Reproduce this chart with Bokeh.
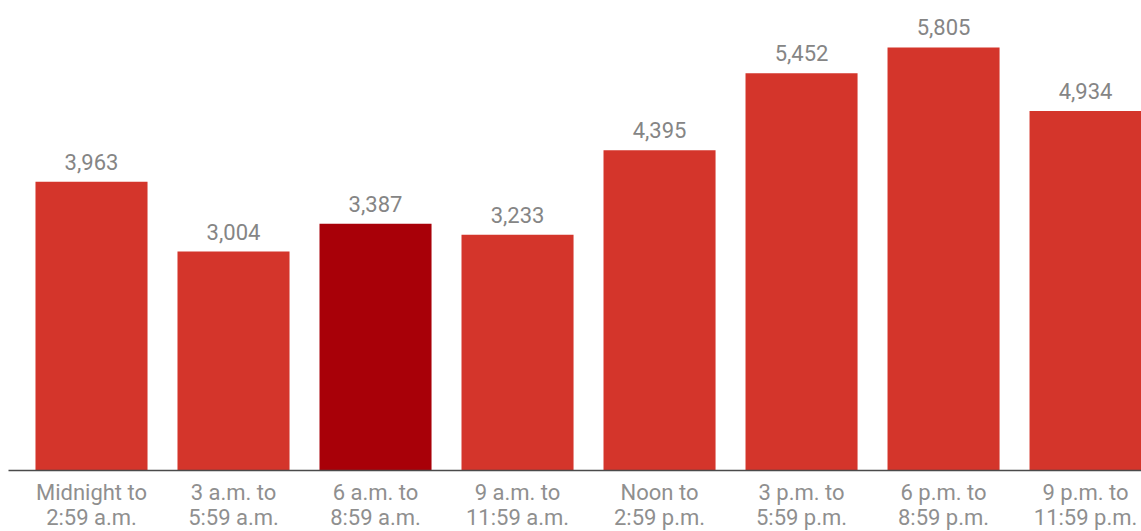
from bokeh.plotting import figure
from bokeh.models import ColumnDataSource, Range1d, FixedTicker
from bokeh.core.properties import value
from bokeh.embed import file_html
from bokeh.resources import INLINE

# ---- data ----
categories = ["Midnight to\n2:59 a.m.", "3 a.m. to\n5:59 a.m.", "6 a.m. to\n8:59 a.m.",
              "9 a.m. to\n11:59 a.m.", "Noon to\n2:59 p.m.", "3 p.m. to\n5:59 p.m.",
              "6 p.m. to\n8:59 p.m.", "9 p.m. to\n11:59 p.m."]
counts = [3963, 3004, 3387, 3233, 4395, 5452, 5805, 4934]
highlight = [False, False, True, False, False, False, False, False]

RED = "#d4352b"
DARK = "#a80008"

xs = [i + 0.5 for i in range(len(categories))]
src = ColumnDataSource(dict(
    x=xs,
    y=counts,
    color=[DARK if h else RED for h in highlight],
    label=[f"{v:,}" for v in counts],
))

p = figure(frame_width=1133, frame_height=462,
           x_range=Range1d(-0.0845, 7.894), y_range=Range1d(0, 6339),
           output_backend="svg", toolbar_location=None,
           min_border=0, min_border_left=8, min_border_right=0,
           min_border_top=8, min_border_bottom=0,
           y_axis_location=None)
p.outline_line_color = None
p.xgrid.visible = False
p.ygrid.visible = False
p.background_fill_color = "white"
p.border_fill_color = "white"

p.vbar(x="x", top="y", width=0.789, bottom=0, color="color", line_color=None, source=src)

p.text(x="x", y="y", text="label", source=src, y_offset=-20,
       text_align="center", text_baseline="alphabetic",
       text_font=value("Roboto"), text_font_size="22px", text_color="#858585")

ax = p.xaxis[0]
ax.ticker = FixedTicker(ticks=xs)
ax.major_label_overrides = {x: c for x, c in zip(xs, categories)}
ax.major_tick_line_color = None
ax.minor_tick_line_color = None
ax.major_tick_out = 0
ax.major_tick_in = 0
ax.major_label_standoff = 9
ax.axis_line_color = "#4a4a4a"
ax.axis_line_width = 1.5
ax.major_label_text_font = "Roboto"
ax.major_label_text_font_size = "22px"
ax.major_label_text_color = "#8f8f8f"
ax.major_label_text_line_height = 1.03

open("out.html", "w").write(file_html(p, INLINE))
